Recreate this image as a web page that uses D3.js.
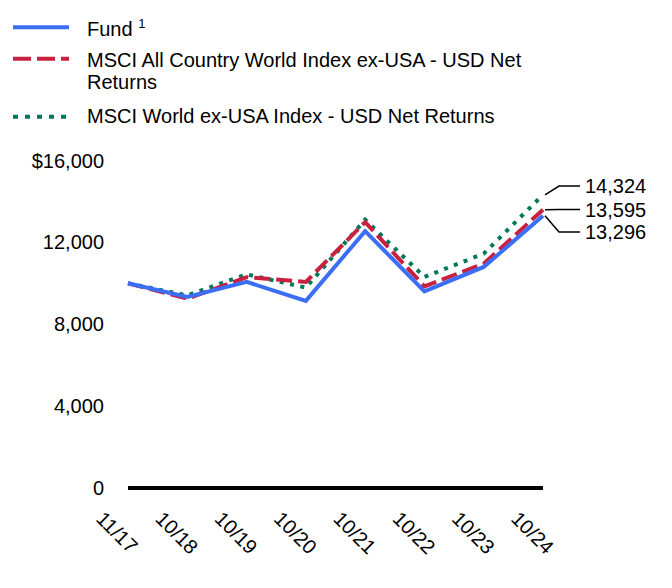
<!DOCTYPE html>
<html><head><meta charset="utf-8">
<script src="https://cdn.jsdelivr.net/npm/d3@7"></script>
<style>
body{margin:0;background:#fff;}
svg{display:block;font-family:"Liberation Sans",Arial,sans-serif;}
</style></head>
<body>
<svg id="c" width="672" height="588"></svg>
<script>
const categories = ["11/17","10/18","10/19","10/20","10/21","10/22","10/23","10/24"];
const fund = [10000, 9330, 10070, 9140, 12550, 9610, 10800, 13296];
const acwi = [10000, 9250, 10300, 10070, 12990, 9850, 10960, 13595];
const world = [10000, 9410, 10440, 9790, 13110, 10310, 11450, 14324];
const yTicks = [0, 4000, 8000, 12000, 16000];
const seriesNames = ["Fund", "MSCI All Country World Index ex-USA - USD Net Returns", "MSCI World ex-USA Index - USD Net Returns"];

const svg = d3.select("#c");
const x = d3.scalePoint().domain(categories).range([128, 543]);
const y = d3.scaleLinear().domain([0, 16000]).range([488, 160.5]);

// y tick labels
svg.append("g").selectAll("text").data(yTicks).join("text")
  .attr("x", 104).attr("y", d => y(d)).attr("dy", "0.35em")
  .attr("text-anchor", "end").attr("font-size", 20).attr("fill", "#000")
  .text(d => (d === 16000 ? "$" : "") + d3.format(",")(d));

// baseline
svg.append("line").attr("x1", x(categories[0])).attr("x2", x(categories[categories.length-1]))
  .attr("y1", y(0)).attr("y2", y(0)).attr("stroke", "#000").attr("stroke-width", 4);

// x labels
svg.append("g").selectAll("text").data(categories).join("text")
  .attr("transform", d => `translate(${x(d) - 33},520) rotate(45)`)
  .attr("font-size", 20).attr("fill", "#000").text(d => d);

const line = d3.line().x((d, i) => x(categories[i])).y(d => y(d));
const styles = [
  {data: fund, color: "#3b6ef5", dash: null, cap: "butt"},
  {data: acwi, color: "#c8203f", dash: "16,6", cap: "butt"},
  {data: world, color: "#00785a", dash: "4,6.5", cap: "butt"}
];
[styles[2], styles[1], styles[0]].forEach(s => {
  svg.append("path").attr("d", line(s.data)).attr("fill", "none")
    .attr("stroke", s.color).attr("stroke-width", 4)
    .attr("stroke-dasharray", s.dash).attr("stroke-linejoin", "miter");
});
// redraw dashed and dotted on top in order seen: fund bottom? keep fund on top of others
// end labels
const last = categories[categories.length-1];
const labels = [
  {v: world[7], ty: 186},
  {v: acwi[7], ty: 209.5},
  {v: fund[7], ty: 232}
];
const lg = svg.append("g");
labels.forEach(l => {
  const yy = y(l.v);
  lg.append("path").attr("d", `M${x(last)+2},${yy} L${x(last)+16},${l.ty} L580,${l.ty}`)
    .attr("fill", "none").attr("stroke", "#000").attr("stroke-width", 1.5);
  lg.append("text").attr("x", 585).attr("y", l.ty).attr("dy", "0.35em")
    .attr("font-size", 20).attr("fill", "#000").text(d3.format(",")(l.v));
});

// legend
const leg = svg.append("g");
const legY = [27.3, 58.7, 116.7];
styles.forEach((s, i) => {
  leg.append("line").attr("x1", 13).attr("x2", 69).attr("y1", legY[i]).attr("y2", legY[i])
    .attr("stroke", s.color).attr("stroke-width", 4)
    .attr("stroke-dasharray", i === 1 ? "18,6" : (i === 2 ? "5,7" : null));
});
const t0 = leg.append("text").attr("x", 87).attr("y", 36).attr("font-size", 20).attr("fill", "#000");
t0.append("tspan").text(seriesNames[0] + " ");
t0.append("tspan").attr("font-size", 13).attr("dy", -8).text("1");
leg.append("text").attr("x", 87).attr("y", 66.7).attr("font-size", 20).attr("fill", "#000")
  .text("MSCI All Country World Index ex-USA - USD Net");
leg.append("text").attr("x", 87).attr("y", 89.3).attr("font-size", 20).attr("fill", "#000")
  .text("Returns");
leg.append("text").attr("x", 87).attr("y", 123.3).attr("font-size", 20).attr("fill", "#000")
  .text(seriesNames[2]);
</script>
</body></html>
